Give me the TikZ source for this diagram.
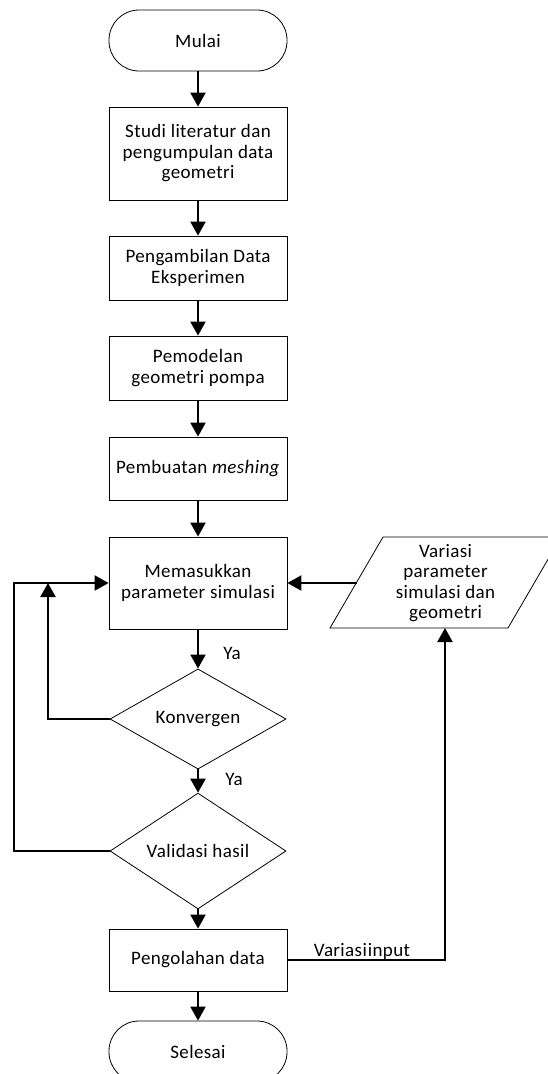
\documentclass[tikz,border=0pt]{standalone}
\usepackage{fontspec}
\setmainfont{Carlito}[LetterSpace=2]
\usetikzlibrary{arrows.meta,shapes.geometric}
\tikzset{
  every node/.style={font=\fontsize{19}{20.5}\selectfont},
  box/.style={draw, line width=0.8pt, minimum width=178pt, align=center, inner sep=0pt},
  term/.style={box, rounded corners=30pt, minimum height=61pt},
  dec/.style={draw, diamond, line width=0.8pt, minimum width=176pt, minimum height=91pt, inner sep=0pt},
  arr/.style={line width=2.2pt, -{Triangle[length=14pt,width=15pt]}},
  conn/.style={line width=2.2pt},
  lbl/.style={inner sep=0pt}
}
\begin{document}
\begin{tikzpicture}[x=1pt,y=-1pt]
\useasboundingbox (0,0) rectangle (548,1074);
\clip (0,0) rectangle (548,1074);
\node[term] (start) at (198,40.5) {Mulai};
\node[box, minimum height=93pt] (b1) at (198,153.5) {Studi literatur dan\\pengumpulan data\\geometri};
\node[box, minimum height=64pt] (b2) at (198,268) {Pengambilan Data\\Eksperimen};
\node[box, minimum height=64pt] (b3) at (198,368) {Pemodelan\\geometri pompa};
\node[box, minimum height=63pt] (b4) at (198,468.5) {Pembuatan \textit{meshing}};
\node[box, minimum height=92pt] (b5) at (198,583) {Memasukkan\\parameter simulasi};
\node[dec] (d1) at (198,719) {Konvergen};
\node[dec] (d2) at (198,851) {Validasi hasil};
\node[box, minimum height=62pt] (b6) at (198,960) {Pengolahan data};
\node[term] (end) at (198,1051.5) {Selesai};
% parallelogram
\draw[line width=0.8pt] (383,537) -- (561,537) -- (508,628) -- (330,628) -- cycle;
\node[align=center, inner sep=0pt] (var) at (445.5,583) {Variasi\\parameter\\simulasi dan\\geometri};
\coordinate (varL) at (356.5,583);
\coordinate (varB) at (445,628);
\coordinate (loopin) at (48,583);
\coordinate (loopout) at (14,583);
% connectors
\draw[arr] (start) -- (b1);
\draw[arr] (b1) -- (b2);
\draw[arr] (b2) -- (b3);
\draw[arr] (b3) -- (b4);
\draw[arr] (b4) -- (b5);
\draw[arr] (b5) -- (d1);
\draw[arr] (d1) -- (d2);
\draw[arr] (d2) -- (b6);
\draw[arr] (b6) -- (end);
\draw[arr] (d1.west) -| (loopin);
\draw[arr] (d2.west) -| (loopout) -- (b5.west);
\draw[arr] (varL) -- (b5.east);
\draw[arr] (b6.east) -| (varB);
\node[lbl] (ya1) at (232,653) {Ya};
\node[lbl] (ya2) at (234,779) {Ya};
\node[lbl, anchor=base] (vi) at (362,956) {Variasi\hspace{1pt}input};
\end{tikzpicture}
\end{document}
